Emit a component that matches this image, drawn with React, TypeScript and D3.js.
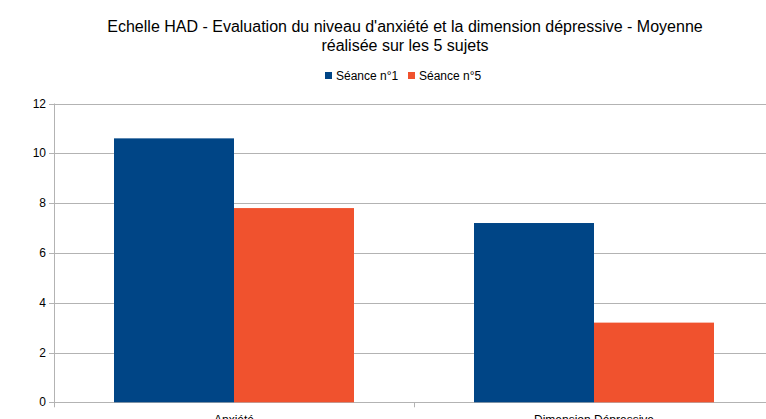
import { useEffect, useRef } from 'react'
import * as d3 from 'd3'

const categories = ['Anxiété', 'Dimension Dépressive']
const seriesNames = ['Séance n°1', 'Séance n°5']
const seance1 = [10.6, 7.2]
const seance5 = [7.8, 3.2]
const colors = ['#004586', '#f0522e']
const yTicks = [0, 2, 4, 6, 8, 10, 12]
const titleLines = [
  "Echelle HAD - Evaluation du niveau d'anxiété et la dimension dépressive - Moyenne",
  'réalisée sur les 5 sujets',
]

const WIDTH = 766
const HEIGHT = 419

export default function App() {
  const svgRef = useRef<SVGSVGElement>(null)

  useEffect(() => {
    if (!svgRef.current) return
    const svg = d3.select(svgRef.current)
    svg.selectAll('*').remove()

    const font = '"Liberation Sans", Arial, sans-serif'
    const margin = { top: 103.5, left: 54, bottom: 402.3, right: 774 }

    // Scales
    const x = d3.scaleBand<string>().domain(categories).range([margin.left, margin.right])
    const xInner = d3
      .scaleBand<string>()
      .domain(seriesNames)
      .range([60, x.bandwidth() - 60])
    const y = d3.scaleLinear().domain([0, 12]).range([margin.bottom, margin.top])

    svg.append('rect').attr('width', WIDTH).attr('height', HEIGHT).attr('fill', '#fff')

    // Title
    svg
      .append('g')
      .selectAll('text')
      .data(titleLines)
      .join('text')
      .attr('x', 405)
      .attr('y', (_, i) => 32 + i * 19)
      .attr('text-anchor', 'middle')
      .attr('font-family', font)
      .attr('font-size', '16px')
      .attr('fill', '#000')
      .text((d) => d)

    // Legend
    const legend = svg.append('g').attr('font-family', font).attr('font-size', '12px')
    const legendX = [325, 408]
    seriesNames.forEach((name, i) => {
      legend
        .append('rect')
        .attr('x', legendX[i])
        .attr('y', 72)
        .attr('width', 7)
        .attr('height', 7)
        .attr('fill', colors[i])
      legend
        .append('text')
        .attr('x', legendX[i] + 11)
        .attr('y', 80)
        .attr('fill', '#000')
        .text(name)
    })

    // Grid lines
    svg
      .append('g')
      .selectAll('line')
      .data(yTicks)
      .join('line')
      .attr('x1', margin.left - 5)
      .attr('x2', WIDTH)
      .attr('y1', (d) => Math.round(y(d)) + 0.5)
      .attr('y2', (d) => Math.round(y(d)) + 0.5)
      .attr('stroke', '#b3b3b3')
      .attr('stroke-width', 1)

    // Y labels
    svg
      .append('g')
      .selectAll('text')
      .data(yTicks)
      .join('text')
      .attr('x', margin.left - 8)
      .attr('y', (d) => y(d) + 4)
      .attr('text-anchor', 'end')
      .attr('font-family', font)
      .attr('font-size', '12px')
      .attr('fill', '#000')
      .text((d) => d)

    // Bars
    const values = [seance1, seance5]
    const groups = svg
      .append('g')
      .selectAll('g')
      .data(categories)
      .join('g')
      .attr('transform', (d) => `translate(${x(d)},0)`)
    groups
      .selectAll('rect')
      .data((_, ci) => seriesNames.map((s, si) => ({ s, si, v: values[si][ci] })))
      .join('rect')
      .attr('x', (d) => xInner(d.s)!)
      .attr('width', xInner.bandwidth())
      .attr('y', (d) => y(d.v))
      .attr('height', (d) => y(0) - y(d.v))
      .attr('fill', (d) => colors[d.si])

    // Y axis line
    svg
      .append('line')
      .attr('x1', margin.left + 0.5)
      .attr('x2', margin.left + 0.5)
      .attr('y1', margin.top)
      .attr('y2', margin.bottom)
      .attr('stroke', '#b3b3b3')

    // X axis ticks between categories
    const sepX = [margin.left, x(categories[1])!, margin.right]
    svg
      .append('g')
      .selectAll('line')
      .data(sepX)
      .join('line')
      .attr('x1', (d) => Math.round(d) + 0.5)
      .attr('x2', (d) => Math.round(d) + 0.5)
      .attr('y1', margin.bottom)
      .attr('y2', margin.bottom + 5)
      .attr('stroke', '#b3b3b3')

    // Category labels (cut off by the bottom edge, as in the source image)
    svg
      .append('g')
      .selectAll('text')
      .data(categories)
      .join('text')
      .attr('x', (d) => x(d)! + x.bandwidth() / 2)
      .attr('y', 424)
      .attr('text-anchor', 'middle')
      .attr('font-family', font)
      .attr('font-size', '12px')
      .attr('fill', '#000')
      .text((d) => d)
  }, [])

  return (
    <svg
      ref={svgRef}
      width={WIDTH}
      height={HEIGHT}
      style={{ position: 'absolute', left: 0, top: 0, display: 'block' }}
    />
  )
}
